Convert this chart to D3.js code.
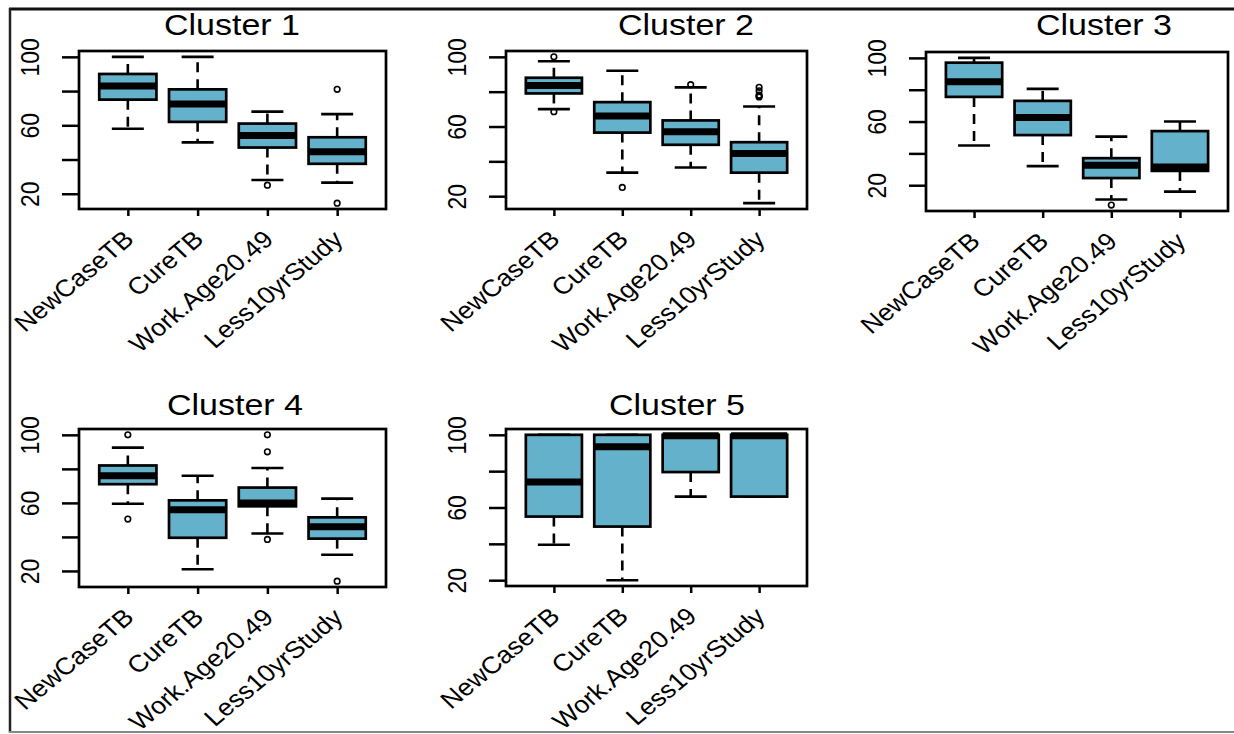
<!DOCTYPE html>
<html><head><meta charset="utf-8">
<script src="https://cdn.jsdelivr.net/npm/d3@7"></script>
<style>
body{margin:0;background:#fff}
svg{display:block}
text{font-family:"Liberation Sans",Arial,sans-serif;fill:#000}
</style>
</head><body><svg id="c" width="1234" height="734"></svg>
<script>
// ---------- data ----------
const variables = ["NewCaseTB", "CureTB", "Work.Age20.49", "Less10yrStudy"];
const clusterTitles = ["Cluster 1", "Cluster 2", "Cluster 3", "Cluster 4", "Cluster 5"];
const yTickValues = [20, 40, 60, 80, 100];
const yTickLabels = [20, 60, 100];
// each row: [lower whisker, Q1, median, Q3, upper whisker]
const cluster1Stats = [[58, 75, 83, 90, 100], [50, 62, 72.5, 81, 100], [28, 47, 54, 61, 68], [26.5, 37.5, 44.5, 53, 66.5]];
const cluster1Outliers = [[], [], [25], [81, 14.5]];
const cluster2Stats = [[70, 79, 83.5, 88, 97.5], [33.5, 56.5, 66, 74, 92], [36.5, 49.5, 57, 63.5, 82.5], [16, 33.5, 44.5, 51, 71.5]];
const cluster2Outliers = [[100, 68.5], [25], [84], [82.5, 80.5, 78, 77.5, 77]];
const cluster3Stats = [[45, 75.5, 85, 97, 100], [32, 51.5, 62.5, 73, 80.5], [11, 24.5, 32.5, 37, 50.5], [16, 29, 31.5, 54, 60]];
const cluster3Outliers = [[], [], [7.5], []];
const cluster4Stats = [[59.5, 71, 76, 82, 92.5], [21, 39.5, 56, 61.5, 76], [42, 58, 60, 69, 80.5], [29.5, 39, 46, 51.5, 62.5]];
const cluster4Outliers = [[100, 50.5], [], [100, 90, 38.5], [14]];
const cluster5Stats = [[39.5, 55, 74, 100, 100], [20, 49.5, 93.5, 100, 100], [66, 79.5, 99.5, 100, 100], [66, 66, 99.5, 100, 100]];
const cluster5Outliers = [[], [], [], []];

const allStats = [cluster1Stats, cluster2Stats, cluster3Stats, cluster4Stats, cluster5Stats];
const allOutliers = [cluster1Outliers, cluster2Outliers, cluster3Outliers, cluster4Outliers, cluster5Outliers];

// ---------- layout ----------
const layout = [
  {left: 79,  top: 51,  w: 307, h: 158, tx: 232,  ty: 35},
  {left: 506, top: 51,  w: 301, h: 158, tx: 686,  ty: 35},
  {left: 926, top: 52,  w: 302, h: 159, tx: 1104, ty: 35},
  {left: 79,  top: 429, w: 307, h: 158, tx: 235,  ty: 415},
  {left: 506, top: 429, w: 301, h: 157, tx: 677,  ty: 415}
];
const boxFill = "#64b1cb";

const svg = d3.select("#c");

// outer frame
svg.append("line").attr("x1", 9).attr("x2", 1234).attr("y1", 9).attr("y2", 9).attr("stroke", "#111").attr("stroke-width", 3);
svg.append("line").attr("x1", 10).attr("x2", 10).attr("y1", 8).attr("y2", 733).attr("stroke", "#222").attr("stroke-width", 2.5);
svg.append("line").attr("x1", 9).attr("x2", 1234).attr("y1", 732).attr("y2", 732).attr("stroke", "#888").attr("stroke-width", 2);

allStats.forEach((stats, p) => {
  const L = layout[p];
  const outs = allOutliers[p];
  const g = svg.append("g");

  const vals = stats.flat().concat(outs.flat());
  const lo = d3.min(vals), hi = d3.max(vals), r = hi - lo;
  const y = d3.scaleLinear().domain([lo - 0.04 * r, hi + 0.04 * r]).range([L.top + L.h, L.top]);
  const x = d3.scalePoint().domain(variables).range([L.left, L.left + L.w]).padding(0.7);
  const bw = x.step() * 0.82;
  const sw = 16;

  // title
  g.append("text").attr("x", L.tx).attr("y", L.ty).attr("text-anchor", "middle")
    .attr("font-size", 30).attr("textLength", 136).attr("lengthAdjust", "spacingAndGlyphs")
    .text(clusterTitles[p]);

  // boxes
  variables.forEach((v, i) => {
    const [wl, q1, md, q3, wh] = stats[i];
    const cx = x(v);
    [[q3, wh], [q1, wl]].forEach(([a, b]) => {
      if (a !== b) g.append("line").attr("x1", cx).attr("x2", cx).attr("y1", y(a)).attr("y2", y(b))
        .attr("stroke", "#000").attr("stroke-width", 2.6).attr("stroke-dasharray", "10,7");
    });
    [wl, wh].forEach(s => {
      g.append("line").attr("x1", cx - sw).attr("x2", cx + sw).attr("y1", y(s)).attr("y2", y(s))
        .attr("stroke", "#000").attr("stroke-width", 2.6);
    });
    g.append("rect").attr("x", cx - bw / 2).attr("width", bw).attr("y", y(q3)).attr("height", y(q1) - y(q3))
      .attr("fill", boxFill).attr("stroke", "#000").attr("stroke-width", 2.7);
    g.append("line").attr("x1", cx - bw / 2).attr("x2", cx + bw / 2).attr("y1", y(md)).attr("y2", y(md))
      .attr("stroke", "#000").attr("stroke-width", 7);
    outs[i].forEach(o => {
      g.append("circle").attr("cx", cx).attr("cy", y(o)).attr("r", 2.8)
        .attr("fill", "none").attr("stroke", "#000").attr("stroke-width", 1.6);
    });
  });

  // plot frame
  g.append("rect").attr("x", L.left).attr("y", L.top).attr("width", L.w).attr("height", L.h)
    .attr("fill", "none").attr("stroke", "#000").attr("stroke-width", 2.7);

  // y axis
  const ya = g.append("g").attr("transform", `translate(${L.left},0)`)
    .call(d3.axisLeft(y).tickValues(yTickValues).tickSize(17).tickSizeOuter(0)
      .tickFormat(d => yTickLabels.includes(d) ? d : ""));
  ya.select(".domain").remove();
  ya.selectAll(".tick line").attr("stroke", "#000").attr("stroke-width", 2.5);
  ya.selectAll(".tick text").attr("x", 0).attr("dy", "0.36em")
    .attr("transform", "translate(-49,0) scale(1.12,1) rotate(-90)").attr("text-anchor", "middle")
    .attr("font-size", 23).attr("font-family", "Liberation Sans, Arial, sans-serif").attr("fill", "#000");

  // x axis
  const xa = g.append("g").attr("transform", `translate(0,${L.top + L.h})`)
    .call(d3.axisBottom(x).tickSize(7).tickSizeOuter(0).tickFormat(""));
  xa.select(".domain").remove();
  xa.selectAll(".tick line").attr("stroke", "#000").attr("stroke-width", 2.5);
  variables.forEach(v => {
    g.append("text").attr("transform", `translate(${x(v) + 1},${L.top + L.h + 26}) scale(1.12,1) rotate(-43)`)
      .attr("text-anchor", "end").attr("dominant-baseline", "central")
      .attr("font-size", 24).text(v);
  });
});
</script>
</body></html>
